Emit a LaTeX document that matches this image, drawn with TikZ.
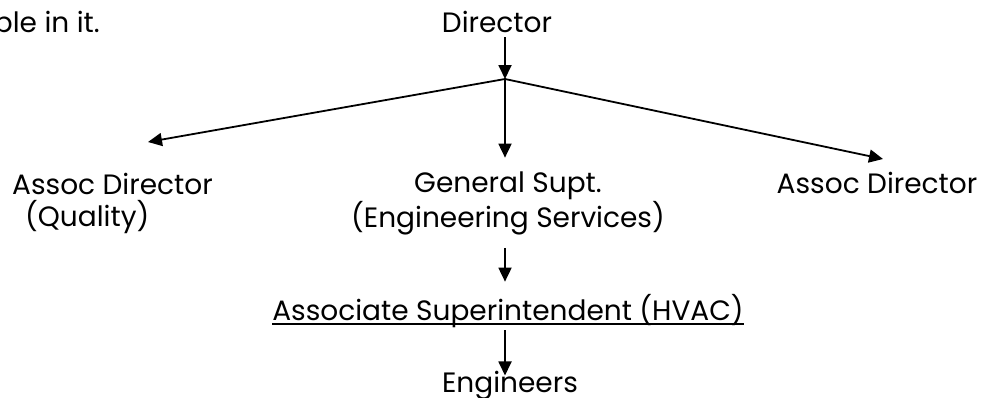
\documentclass[tikz,border=0pt]{standalone}
\usepackage{fontspec}
\setmainfont{Poppins}
\usetikzlibrary{arrows.meta}

\begin{document}
\begin{tikzpicture}[x=1pt, y=1pt,
    every node/.style={font=\fontsize{28}{32}\selectfont, inner sep=0pt},
    arrow/.style={line width=1.8pt, -{Triangle[length=14pt,width=13pt]}}]

    \useasboundingbox (0,0) rectangle (985,-397);

    % Nodes
    \node[anchor=base east] (note) at (100,-32) {ple in it.};
    \node[anchor=base] (dir) at (497,-32) {Director};
    \node[anchor=base west, align=left] (adq) at (12,-226) {Assoc Director\\\hspace*{13pt}(Quality)};
    \node[anchor=base, align=center] (gen) at (508,-227) {General Supt.\\(Engineering Services)};
    \node[anchor=base] (adr) at (877,-193) {Assoc Director};
    \node[anchor=base] (hvac) at (508,-320) {Associate Superintendent (HVAC)};
    \node[anchor=base] (eng) at (510,-392) {Engineers};

    % Junction and arrow tips
    \coordinate (j) at (505,-79);
    \coordinate (adqtip) at (148,-142);
    \coordinate (adrtip) at (883,-159);

    % Edges
    \draw[arrow, shorten <=5pt] (dir.base -| j) -- (j);
    \draw[arrow] (j) -- (adqtip);
    \draw[arrow] (j) -- (adrtip);
    \draw[arrow, shorten >=14pt] (j) -- (j |- gen.north);
    \draw[arrow, shorten <=13pt, shorten >=12pt] (j |- gen.south) -- (j |- hvac.north);
    \draw[arrow, shorten <=3pt, shorten >=-5pt] (j |- hvac.south) -- (j |- eng.north);

    % Underline
    \draw[line width=1.8pt] ([yshift=-4pt]hvac.base west) -- ([yshift=-4pt]hvac.base east);

\end{tikzpicture}
\end{document}
